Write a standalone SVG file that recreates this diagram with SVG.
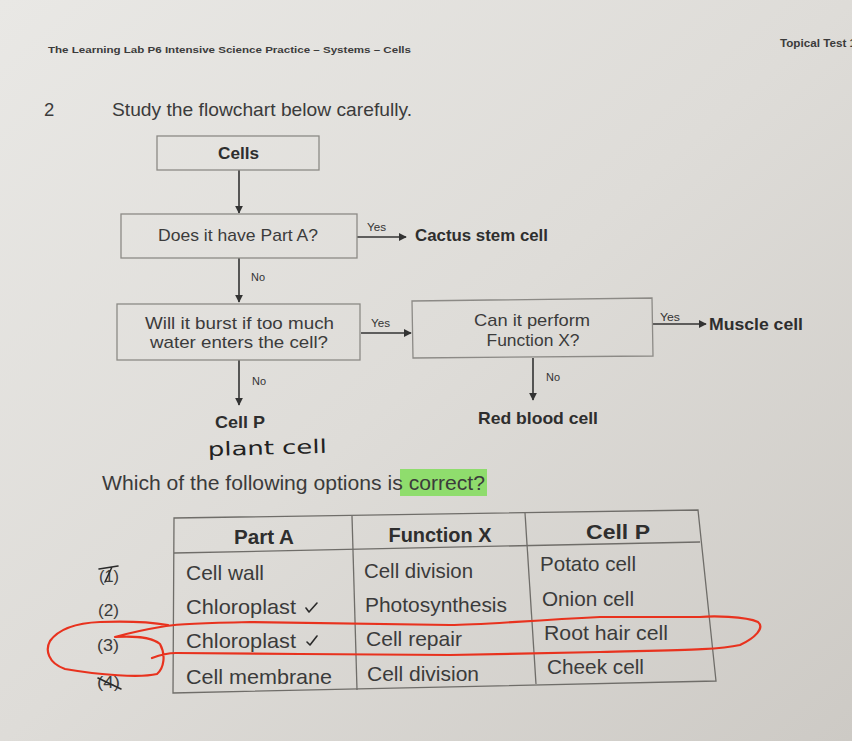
<svg xmlns="http://www.w3.org/2000/svg" width="852" height="741" viewBox="0 0 852 741">
<defs>
<linearGradient id="paper" x1="0" y1="0" x2="1" y2="1">
<stop offset="0" stop-color="#e9e8e5"/>
<stop offset="0.5" stop-color="#dedcd8"/>
<stop offset="1" stop-color="#cdcac5"/>
</linearGradient>
<marker id="ah" viewBox="0 0 10 10" refX="9" refY="5" markerWidth="8" markerHeight="8" markerUnits="userSpaceOnUse" orient="auto">
<path d="M0,0 L10,5 L0,10 z" fill="#333"/>
</marker>
<style>
.t{font-family:"Liberation Sans",Arial,sans-serif;fill:#3b3b3b}
.b{font-family:"Liberation Sans",Arial,sans-serif;font-weight:bold;fill:#2e2e2e}
.box{fill:none;stroke:#8c8a86;stroke-width:1.3}
.ar{stroke:#333;stroke-width:1.6;fill:none;marker-end:url(#ah)}
.sm{font-family:"Liberation Sans",Arial,sans-serif;font-size:11px;fill:#333}
.tl{stroke:#6f6d69;stroke-width:1.3;fill:none}
.red{stroke:#e8321e;stroke-width:2.2;fill:none;stroke-linecap:round;stroke-linejoin:round}
.pen{stroke:#2a2a2a;stroke-width:1.6;fill:none;stroke-linecap:round;stroke-linejoin:round}
</style>
</defs>
<rect width="852" height="741" fill="url(#paper)"/>

<g id="header">
<text class="t" x="48" y="53" font-size="9.5" font-weight="bold" textLength="363" lengthAdjust="spacingAndGlyphs">The Learning Lab P6 Intensive Science Practice – Systems – Cells</text>
<text class="t" x="780" y="47" font-size="10.5" font-weight="bold" textLength="76" lengthAdjust="spacingAndGlyphs">Topical Test 1</text>
<text class="t" x="44" y="116" font-size="18.5">2</text>
<text class="t" x="112" y="116" font-size="19" textLength="300" lengthAdjust="spacingAndGlyphs">Study the flowchart below carefully.</text>
</g>

<g id="connectors">
<line class="ar" x1="239" y1="170" x2="239" y2="213"/>
<line class="ar" x1="357" y1="237" x2="406" y2="237"/>
<text class="sm" x="367" y="231" textLength="19" lengthAdjust="spacingAndGlyphs">Yes</text>
<line class="ar" x1="239" y1="258" x2="239" y2="302"/>
<text class="sm" x="251" y="281" textLength="14" lengthAdjust="spacingAndGlyphs">No</text>
<line class="ar" x1="361" y1="333" x2="411" y2="333"/>
<text class="sm" x="371" y="327" textLength="19" lengthAdjust="spacingAndGlyphs">Yes</text>
<line class="ar" x1="653" y1="324" x2="706" y2="324"/>
<text class="sm" x="660" y="321" textLength="20" lengthAdjust="spacingAndGlyphs">Yes</text>
<line class="ar" x1="239" y1="360" x2="239" y2="405"/>
<text class="sm" x="252" y="385" textLength="14" lengthAdjust="spacingAndGlyphs">No</text>
<line class="ar" x1="533" y1="358" x2="533" y2="400"/>
<text class="sm" x="546" y="381" textLength="14" lengthAdjust="spacingAndGlyphs">No</text>
</g>

<g id="node-cells">
<rect class="box" x="157" y="136" width="162" height="34"/>
<text class="b" x="238.5" y="158.5" font-size="16" text-anchor="middle" textLength="41" lengthAdjust="spacingAndGlyphs">Cells</text>
</g>
<g id="node-partA">
<rect class="box" x="121" y="214" width="236" height="44"/>
<text class="t" x="238" y="241" font-size="17" text-anchor="middle" textLength="160" lengthAdjust="spacingAndGlyphs">Does it have Part A?</text>
</g>
<g id="node-cactus">
<text class="b" x="415" y="241" font-size="17" textLength="133" lengthAdjust="spacingAndGlyphs">Cactus stem cell</text>
</g>
<g id="node-burst">
<rect class="box" x="117" y="304" width="243" height="56"/>
<text class="t" x="239.5" y="328.5" font-size="17" text-anchor="middle" textLength="189" lengthAdjust="spacingAndGlyphs">Will it burst if too much</text>
<text class="t" x="239" y="347.5" font-size="17" text-anchor="middle" textLength="178" lengthAdjust="spacingAndGlyphs">water enters the cell?</text>
</g>
<g id="node-functionX">
<polygon class="box" points="412,301 652,298 653,356 413,358"/>
<text class="t" x="532" y="325.5" font-size="17" text-anchor="middle" textLength="116" lengthAdjust="spacingAndGlyphs">Can it perform</text>
<text class="t" x="533" y="345.5" font-size="17" text-anchor="middle" textLength="93" lengthAdjust="spacingAndGlyphs">Function X?</text>
</g>
<g id="node-muscle">
<text class="b" x="709" y="330" font-size="17" textLength="94" lengthAdjust="spacingAndGlyphs">Muscle cell</text>
</g>
<g id="node-cellP">
<text class="b" x="240" y="428" font-size="17" text-anchor="middle" textLength="50" lengthAdjust="spacingAndGlyphs">Cell P</text>
<text x="208" y="456" font-family="'DejaVu Sans',sans-serif" font-size="19" fill="#222" textLength="119" lengthAdjust="spacingAndGlyphs" transform="rotate(-1.5 208 456)">plant cell</text>
</g>
<g id="node-rbc">
<text class="b" x="538" y="424" font-size="17" text-anchor="middle" textLength="120" lengthAdjust="spacingAndGlyphs">Red blood cell</text>
</g>

<g id="question">
<rect x="400" y="469" width="87" height="27" fill="#86dd62" opacity="0.9"/>
<text class="t" x="102" y="490" font-size="20" textLength="383" lengthAdjust="spacingAndGlyphs">Which of the following options is correct?</text>
</g>

<g id="table">
<polygon class="tl" points="174,518 698,510 716,681 173,693"/>
<line class="tl" x1="174" y1="553" x2="700" y2="542"/>
<line class="tl" x1="352" y1="516" x2="357" y2="690"/>
<line class="tl" x1="525" y1="513" x2="536" y2="684"/>
<text class="b" x="264" y="544" font-size="19.5" text-anchor="middle" textLength="60" lengthAdjust="spacingAndGlyphs">Part A</text>
<text class="b" x="440" y="542" font-size="19.5" text-anchor="middle" textLength="103" lengthAdjust="spacingAndGlyphs">Function X</text>
<text class="b" x="618" y="539" font-size="19.5" text-anchor="middle" textLength="64" lengthAdjust="spacingAndGlyphs">Cell P</text>

<text class="t" x="186" y="580" font-size="21" textLength="78" lengthAdjust="spacingAndGlyphs">Cell wall</text>
<text class="t" x="186" y="614" font-size="21" textLength="110" lengthAdjust="spacingAndGlyphs">Chloroplast</text>
<text class="t" x="186" y="648" font-size="21" textLength="110" lengthAdjust="spacingAndGlyphs">Chloroplast</text>
<text class="t" x="186" y="684" font-size="21" textLength="146" lengthAdjust="spacingAndGlyphs">Cell membrane</text>

<text class="t" x="364" y="578" font-size="21" textLength="109" lengthAdjust="spacingAndGlyphs">Cell division</text>
<text class="t" x="365" y="612" font-size="21" textLength="142" lengthAdjust="spacingAndGlyphs">Photosynthesis</text>
<text class="t" x="366" y="646" font-size="21" textLength="96" lengthAdjust="spacingAndGlyphs">Cell repair</text>
<text class="t" x="367" y="681" font-size="21" textLength="112" lengthAdjust="spacingAndGlyphs">Cell division</text>

<text class="t" x="540" y="571" font-size="21" textLength="96" lengthAdjust="spacingAndGlyphs">Potato cell</text>
<text class="t" x="542" y="606" font-size="21" textLength="92" lengthAdjust="spacingAndGlyphs">Onion cell</text>
<text class="t" x="544" y="640" font-size="21" textLength="124" lengthAdjust="spacingAndGlyphs">Root hair cell</text>
<text class="t" x="547" y="674" font-size="21" textLength="97" lengthAdjust="spacingAndGlyphs">Cheek cell</text>

<text class="t" x="99" y="582" font-size="17" textLength="20" lengthAdjust="spacingAndGlyphs">(1)</text>
<text class="t" x="98" y="616" font-size="17" textLength="21" lengthAdjust="spacingAndGlyphs">(2)</text>
<text class="t" x="97" y="651" font-size="17" textLength="22" lengthAdjust="spacingAndGlyphs">(3)</text>
<text class="t" x="97" y="688" font-size="17" textLength="23" lengthAdjust="spacingAndGlyphs">(4)</text>
</g>

<g id="annotations">
<path class="pen" d="M99,569 L118,566 M112,567 L105,582"/>
<path class="pen" d="M98,678 L121,689"/>
<path class="pen" d="M306,608 L309,612 L317,603"/>
<path class="pen" d="M307,642 L310,645 L317,636"/>
<path class="red" d="M152,658 C160,655 166,653 176,653 L300,654 L450,655 L600,652 C680,650 718,650 740,645 C755,638 765,628 758,622 C745,616 712,616 700,617 L600,617 C520,621 480,625 450,625 L250,622 C205,623 178,624 166,626 C142,630 122,635 115,637 C132,636 150,636 160,644 C166,655 164,668 157,674 C140,678 100,675 65,669 C48,663 45,650 50,641 C58,630 75,623 100,622 C128,621 150,622 168,625"/>
</g>
</svg>
